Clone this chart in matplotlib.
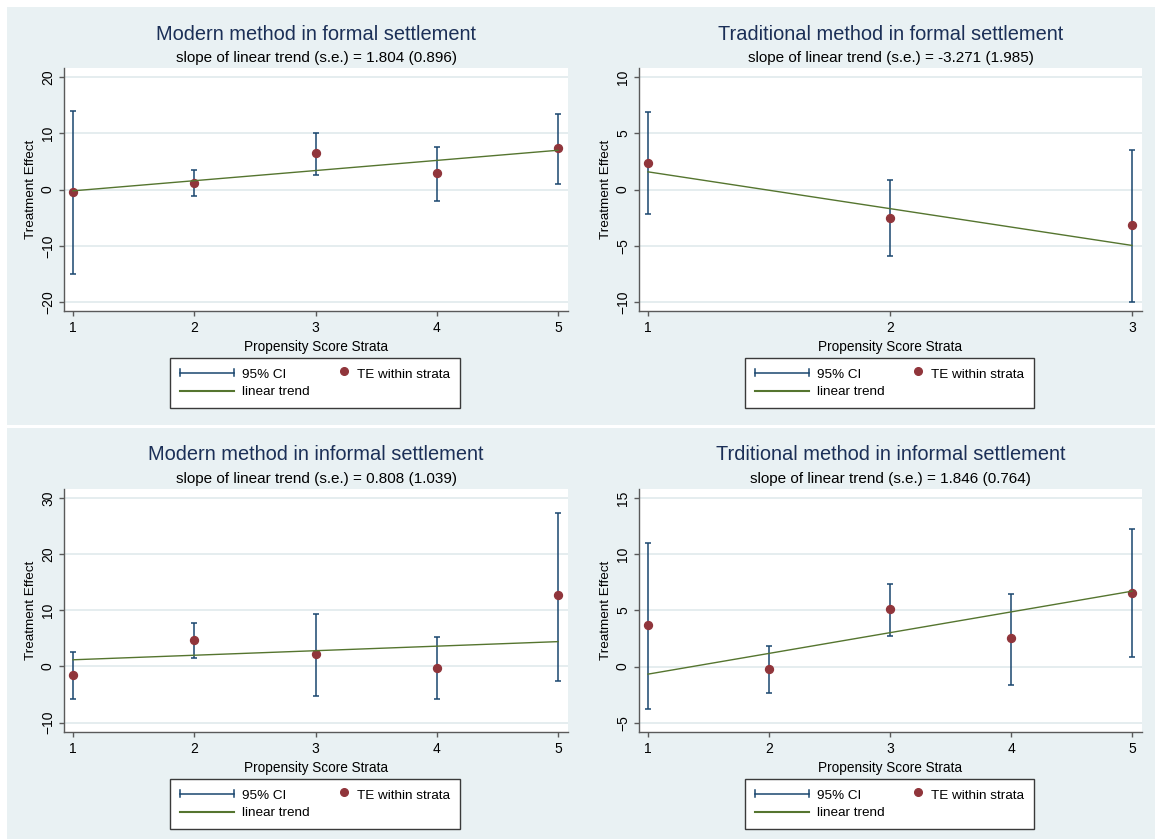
import numpy as np
import matplotlib
matplotlib.use('Agg')
import matplotlib.pyplot as plt
from matplotlib.patches import Rectangle
from matplotlib.lines import Line2D
from matplotlib.legend_handler import HandlerBase

plt.rcParams['font.family'] = ['Liberation Sans', 'DejaVu Sans']

# data
titles = ['Modern method in formal settlement', 'Traditional method in formal settlement',
          'Modern method in informal settlement', 'Trditional method in informal settlement']
slopes = [1.804, -3.271, 0.808, 1.846]
slope_se = [0.896, 1.985, 1.039, 0.764]
trend_start = [-0.24, 1.57, 1.19, -0.68]   # fitted value at stratum 1

strata_mf = [1, 2, 3, 4, 5]
te_mf = [-0.4, 1.24, 6.45, 2.9, 7.3]
lo_mf = [-15.1, -1.1, 2.6, -2.1, 0.9]
hi_mf = [14.0, 3.4, 10.0, 7.5, 13.4]

strata_tf = [1, 2, 3]
te_tf = [2.4, -2.5, -3.14]
lo_tf = [-2.2, -5.9, -10.0]
hi_tf = [6.9, 0.86, 3.5]

strata_mi = [1, 2, 3, 4, 5]
te_mi = [-1.55, 4.7, 2.2, -0.24, 12.7]
lo_mi = [-5.8, 1.43, -5.2, -5.8, -2.56]
hi_mi = [2.56, 7.7, 9.3, 5.2, 27.4]

strata_ti = [1, 2, 3, 4, 5]
te_ti = [3.72, -0.18, 5.12, 2.5, 6.58]
lo_ti = [-3.75, -2.4, 2.74, -1.64, 0.83]
hi_ti = [11.0, 1.85, 7.32, 6.49, 12.2]

yticks = [[-20, -10, 0, 10, 20], [-10, -5, 0, 5, 10], [-10, 0, 10, 20, 30], [-5, 0, 5, 10, 15]]
ylims = [(-21.6, 21.6), (-10.8, 10.8), (-11.67, 31.6), (-5.83, 15.8)]

panels = [(strata_mf, te_mf, lo_mf, hi_mf), (strata_tf, te_tf, lo_tf, hi_tf),
          (strata_mi, te_mi, lo_mi, hi_mi), (strata_ti, te_ti, lo_ti, hi_ti)]

NAVY = '#1A476F'
MAROON = '#90353B'
GREEN = '#55752F'
BG = '#E9F1F3'
GRID = '#E3ECEE'
AXC = '#5A5A5A'
TITLEC = '#1B2F57'

W, H = 1155, 839
fig = plt.figure(figsize=(W / 100, H / 100), dpi=100)
fig.patch.set_facecolor('white')


def fx(p):
    return p / W


def fy(p):
    return 1 - p / H


# grey-blue graph regions (top row and bottom row), kept behind the axes
fig.patches.append(Rectangle((fx(7), fy(425)), fx(W - 7), 418 / H, transform=fig.transFigure,
                             facecolor=BG, edgecolor='none', zorder=-5))
fig.patches.append(Rectangle((fx(7), 0), fx(W - 7), 411 / H, transform=fig.transFigure,
                             facecolor=BG, edgecolor='none', zorder=-5))


class CapHandler(HandlerBase):
    def create_artists(self, legend, orig_handle, xdescent, ydescent, width, height, fontsize, trans):
        y = height / 2 - ydescent
        x0, x1 = -xdescent, -xdescent + width
        h = 2.4
        kw = dict(color=NAVY, lw=1.1, transform=trans)
        return [Line2D([x0, x1], [y, y], **kw), Line2D([x0, x0], [y - h, y + h], **kw),
                Line2D([x1, x1], [y - h, y + h], **kw)]


class DotHandler(HandlerBase):
    def create_artists(self, legend, orig_handle, xdescent, ydescent, width, height, fontsize, trans):
        y = height / 2 - ydescent + 1.5
        x = -xdescent + width - 3.6
        return [Line2D([x], [y], marker='o', ms=5.5, color=MAROON, ls='none', transform=trans)]


cols = [(64, 568), (639, 1142)]
rows = [(68, 311), (489, 732)]

for i, (xs, te, lo, hi) in enumerate(panels):
    (l, r), (t, b) = cols[i % 2], rows[i // 2]
    ax = fig.add_axes([fx(l), fy(b), (r - l) / W, (b - t) / H])
    ax.set_facecolor('white')
    xs = np.array(xs)
    te, lo, hi = np.array(te), np.array(lo), np.array(hi)

    for yv in yticks[i]:
        ax.axhline(yv, color=GRID, lw=1.3, zorder=0)

    ax.errorbar(xs, te, yerr=[te - lo, hi - te], fmt='none', ecolor=NAVY, elinewidth=1.1,
                capsize=2.4, capthick=1.1, zorder=2)
    ax.plot(xs, te, 'o', color=MAROON, ms=5.7, zorder=3)
    trend = trend_start[i] + slopes[i] * (xs - 1)
    ax.plot(xs, trend, color=GREEN, lw=1.0, zorder=4)

    step = (xs[-1] - xs[0]) / (r - l - 19)
    ax.set_xlim(xs[0] - 9 * step, xs[-1] + 10 * step)
    ax.set_ylim(*ylims[i])
    ax.set_xticks(xs)
    ax.set_yticks(yticks[i])
    for s in ['top', 'right']:
        ax.spines[s].set_visible(False)
    for s in ['left', 'bottom']:
        ax.spines[s].set_color(AXC)
        ax.spines[s].set_linewidth(1.0)
    ax.tick_params(colors=AXC, labelcolor='black', length=3.5, width=1.0, labelsize=10)
    ax.tick_params(axis='x', pad=4)
    ax.tick_params(axis='y', pad=3)
    for lab in ax.get_yticklabels():
        lab.set_rotation(90)
        lab.set_va('center')

    ax.set_xlabel('Propensity Score Strata', fontsize=9.8, labelpad=3)
    ax.set_ylabel('Treatment Effect', fontsize=9.7)
    ax.yaxis.set_label_coords(-27 / (r - l), 0.5)

    cx = fx((l + r) / 2)
    fig.text(cx, fy(t - 34), titles[i], ha='center', va='center', fontsize=14.4, color=TITLEC)
    fig.text(cx, fy(t - 10), 'slope of linear trend (s.e.) = %.3f (%.3f)' % (slopes[i], slope_se[i]),
             ha='center', va='center', fontsize=11, color='black')

    h_ci = Line2D([], [], color=NAVY)
    h_te = Line2D([], [], color=MAROON, marker='o', ls='none')
    h_tr = Line2D([], [], color=GREEN)
    leg = ax.legend([h_ci, h_tr, h_te], ['95% CI', 'linear trend', 'TE within strata'],
                    handler_map={h_ci: CapHandler(), h_te: DotHandler()},
                    ncol=2, loc='upper center', bbox_to_anchor=(cx - fx(1), fy(b + 47)),
                    bbox_transform=fig.transFigure, fontsize=9.7, frameon=True, fancybox=False,
                    framealpha=1, handlelength=4.0, handletextpad=0.6, columnspacing=-1.1,
                    borderpad=0.75, labelspacing=0.4, borderaxespad=0)
    leg.get_frame().set_edgecolor('#3a3a3a')
    leg.get_frame().set_facecolor('white')
    leg.get_frame().set_linewidth(1.0)

fig.savefig('out.png', dpi=100)
